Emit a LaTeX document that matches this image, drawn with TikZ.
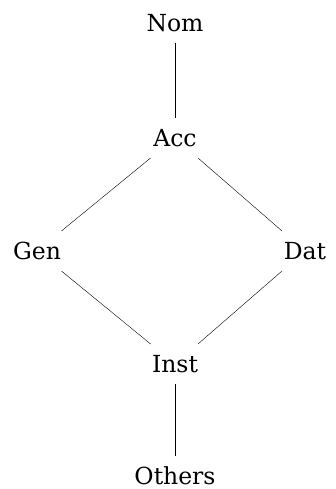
\documentclass[tikz,border=0pt]{standalone}
\usepackage{fontspec}
\setmainfont{DejaVu Serif}
\usepackage{tikz}

\begin{document}
\begin{tikzpicture}[x=1pt,y=-1pt,case/.style={inner xsep=7pt,inner ysep=11pt,font=\fontsize{23.5}{28}\selectfont}]
\useasboundingbox (0,0) rectangle (336,489);
\node [case] (nom)    at (175,23)  {Nom};
\node [case] (acc)    at (175,138) {Acc};
\node [case] (gen)    at (37,251)  {Gen};
\node [case] (dat)    at (305,251) {Dat};
\node [case] (inst)   at (175,364) {Inst};
\node [case] (others) at (175,476) {Others};

\draw [-] (nom) to (acc);
\draw [-] (acc) to (gen);
\draw [-] (acc) to (dat);
\draw [-] (gen) to (inst);
\draw [-] (dat) to (inst);
\draw [-] (inst) to (others);

\end{tikzpicture}
\end{document}
